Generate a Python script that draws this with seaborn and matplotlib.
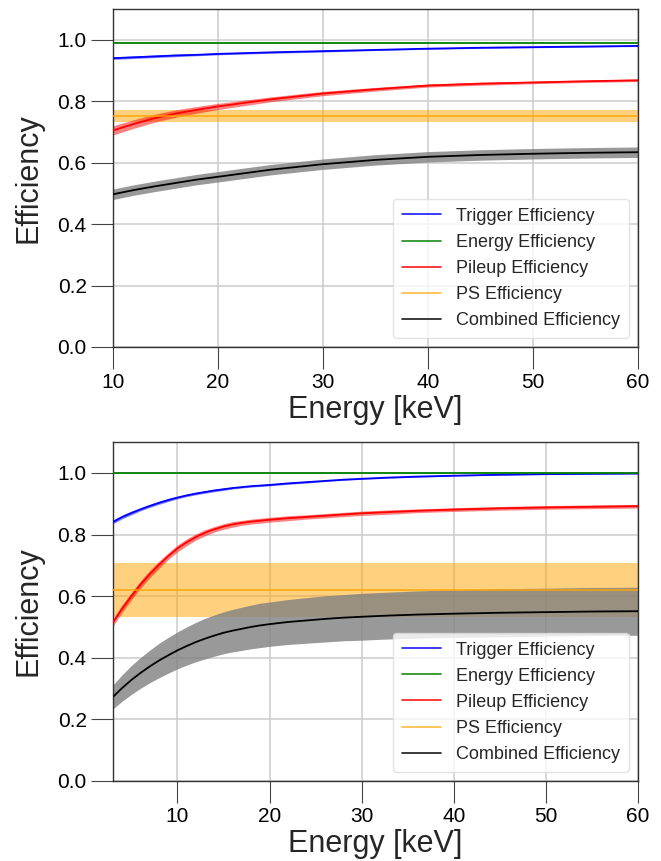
import matplotlib
matplotlib.use("Agg")
import matplotlib.pyplot as plt
import seaborn as sns
import numpy as np
import pandas as pd

# ---- upper panel: 10-60 keV ----
energy_top = [10, 12, 14, 16, 18, 20, 25, 30, 35, 40, 45, 50, 55, 60]
trigger_top = [0.940, 0.943, 0.946, 0.949, 0.951, 0.954, 0.959, 0.963, 0.967, 0.971, 0.974, 0.976, 0.978, 0.980]
trigger_top_err = [0.004, 0.004, 0.004, 0.004, 0.003, 0.003, 0.003, 0.003, 0.002, 0.002, 0.002, 0.002, 0.002, 0.002]
energy_eff_top = 0.99
pileup_top = [0.705, 0.726, 0.745, 0.760, 0.772, 0.783, 0.806, 0.825, 0.839, 0.851, 0.857, 0.861, 0.865, 0.868]
pileup_top_err = [0.015, 0.014, 0.013, 0.012, 0.011, 0.010, 0.008, 0.007, 0.006, 0.005, 0.005, 0.004, 0.004, 0.004]
ps_top, ps_top_err = 0.751, 0.020
combined_top = [0.497, 0.511, 0.523, 0.534, 0.545, 0.554, 0.577, 0.595, 0.609, 0.619, 0.625, 0.629, 0.632, 0.634]
combined_top_err = [0.017] * 14

# ---- lower panel: 3-60 keV ----
energy_bot = [3, 4, 5, 6, 7, 8, 9, 10, 11, 12, 13, 14, 15, 16, 17, 18, 19, 20,
              22, 24, 26, 28, 30, 33, 36, 40, 45, 50, 55, 60]
trigger_bot = [0.841, 0.857, 0.870, 0.882, 0.893, 0.903, 0.912, 0.920, 0.927, 0.933, 0.938, 0.943,
               0.947, 0.951, 0.954, 0.957, 0.959, 0.961, 0.966, 0.970, 0.974, 0.978, 0.981, 0.985,
               0.988, 0.991, 0.994, 0.996, 0.997, 0.998]
trigger_bot_err = [0.006, 0.006, 0.006, 0.005, 0.005, 0.005, 0.005, 0.004, 0.004, 0.004, 0.004, 0.004,
                   0.004, 0.003, 0.003, 0.003, 0.003, 0.003, 0.003, 0.003, 0.002, 0.002, 0.002, 0.002,
                   0.002, 0.001, 0.001, 0.001, 0.001, 0.001]
energy_eff_bot = 1.0
pileup_bot = [0.515, 0.560, 0.600, 0.638, 0.672, 0.702, 0.730, 0.755, 0.775, 0.792, 0.806, 0.817,
              0.826, 0.833, 0.838, 0.842, 0.845, 0.848, 0.853, 0.857, 0.861, 0.865, 0.869, 0.873,
              0.877, 0.881, 0.885, 0.888, 0.890, 0.892]
pileup_bot_err = [0.012, 0.012, 0.012, 0.012, 0.012, 0.012, 0.011, 0.011, 0.011, 0.010, 0.010, 0.009,
                  0.009, 0.009, 0.008, 0.008, 0.008, 0.008, 0.008, 0.007, 0.007, 0.007, 0.007, 0.007,
                  0.006, 0.006, 0.006, 0.006, 0.006, 0.006]
ps_bot, ps_bot_err = 0.620, 0.088
combined_bot = [0.273, 0.302, 0.328, 0.351, 0.372, 0.391, 0.408, 0.424, 0.438, 0.451, 0.462, 0.472,
                0.481, 0.488, 0.494, 0.500, 0.505, 0.509, 0.516, 0.521, 0.526, 0.530, 0.533, 0.537,
                0.540, 0.543, 0.546, 0.548, 0.550, 0.551]
combined_bot_err = [0.039, 0.043, 0.047, 0.050, 0.053, 0.056, 0.058, 0.060, 0.062, 0.064, 0.066, 0.067,
                    0.068, 0.069, 0.070, 0.071, 0.072, 0.072, 0.073, 0.074, 0.075, 0.075, 0.076, 0.076,
                    0.077, 0.077, 0.078, 0.078, 0.078, 0.078]

labels = ["Trigger Efficiency", "Energy Efficiency", "Pileup Efficiency",
          "PS Efficiency", "Combined Efficiency"]
colors = ["blue", "green", "red", "orange", "black"]

sns.set_theme(style="whitegrid", rc={
    "grid.color": "#cccccc",
    "grid.linewidth": 1.1,
    "axes.edgecolor": "#333333",
    "axes.linewidth": 1.0,
    "xtick.bottom": True,
    "ytick.left": True,
    "xtick.direction": "out",
    "ytick.direction": "out",
    "xtick.major.size": 16,
    "ytick.major.size": 16,
    "xtick.major.width": 0.8,
    "ytick.major.width": 0.8,
    "xtick.color": "#444444",
    "ytick.color": "#444444",
    "xtick.labelcolor": "black",
    "ytick.labelcolor": "black",
    "xtick.major.pad": 3,
    "ytick.major.pad": 3,
})
plt.rcParams["font.family"] = ["Liberation Sans", "DejaVu Sans"]

fig = plt.figure(figsize=(6.61, 8.61), dpi=100)
ax_top = fig.add_axes([0.171, 0.597, 0.794, 0.3925])
ax_bot = fig.add_axes([0.171, 0.093, 0.794, 0.3935])


def draw_panel(ax, energy, trig, trig_err, e_eff, pile, pile_err, ps, ps_err, comb, comb_err, xlim, xticks):
    e = np.asarray(energy, float)
    df = pd.DataFrame({
        "energy": np.tile(e, 5),
        "eff": np.concatenate([trig, np.full(len(e), e_eff), pile, np.full(len(e), ps), comb]),
        "kind": np.repeat(labels, len(e)),
    })
    # PS systematic band spans the whole axis
    ax.axhspan(ps - ps_err, ps + ps_err, color="orange", alpha=0.5, lw=0, zorder=1)
    for lab, mid, err in [(labels[0], trig, trig_err), (labels[2], pile, pile_err)]:
        mid, err = np.asarray(mid), np.asarray(err)
        c = colors[labels.index(lab)]
        ax.fill_between(e, mid - err, mid + err, color=c, alpha=0.5, lw=0, zorder=2)
    comb = np.asarray(comb)
    comb_err = np.asarray(comb_err)
    ax.fill_between(e, comb - comb_err, comb + comb_err, color="gray", alpha=0.8, lw=0, zorder=2)

    shown = [l for l in labels if l != labels[3]]
    sns.lineplot(data=df[df.kind != labels[3]], x="energy", y="eff", hue="kind",
                 palette={l: c for l, c in zip(labels, colors)}, hue_order=shown,
                 ax=ax, lw=1.3, legend=False, zorder=3)
    ax.axhline(ps, color="orange", lw=1.3, alpha=0.8, zorder=3)

    ax.set_xlim(*xlim)
    ax.set_ylim(0, 1.1)
    ax.set_xticks(xticks)
    yt = [0.0, 0.2, 0.4, 0.6, 0.8, 1.0]
    ax.set_yticks(yt)
    ax.set_yticklabels([f"{v:.1f}" for v in yt])
    ax.tick_params(labelsize=15)
    ax.set_xlabel("Energy [keV]", fontsize=22, labelpad=2)
    ax.set_ylabel("Efficiency", fontsize=22, labelpad=10)

    handles = [plt.Line2D([], [], color=c, lw=1.2, alpha=0.75 if c == "orange" else 0.9) for c in colors]
    ax.legend(handles, labels, loc="lower right", fontsize=13, frameon=True,
              framealpha=0.8, edgecolor="#dddddd", fancybox=True,
              handlelength=2.2, borderpad=0.5, labelspacing=0.5)


draw_panel(ax_top, energy_top, trigger_top, trigger_top_err, energy_eff_top,
           pileup_top, pileup_top_err, ps_top, ps_top_err, combined_top, combined_top_err,
           (10, 60), [10, 20, 30, 40, 50, 60])
draw_panel(ax_bot, energy_bot, trigger_bot, trigger_bot_err, energy_eff_bot,
           pileup_bot, pileup_bot_err, ps_bot, ps_bot_err, combined_bot, combined_bot_err,
           (3, 60), [10, 20, 30, 40, 50, 60])

fig.savefig("out.png", dpi=100)
